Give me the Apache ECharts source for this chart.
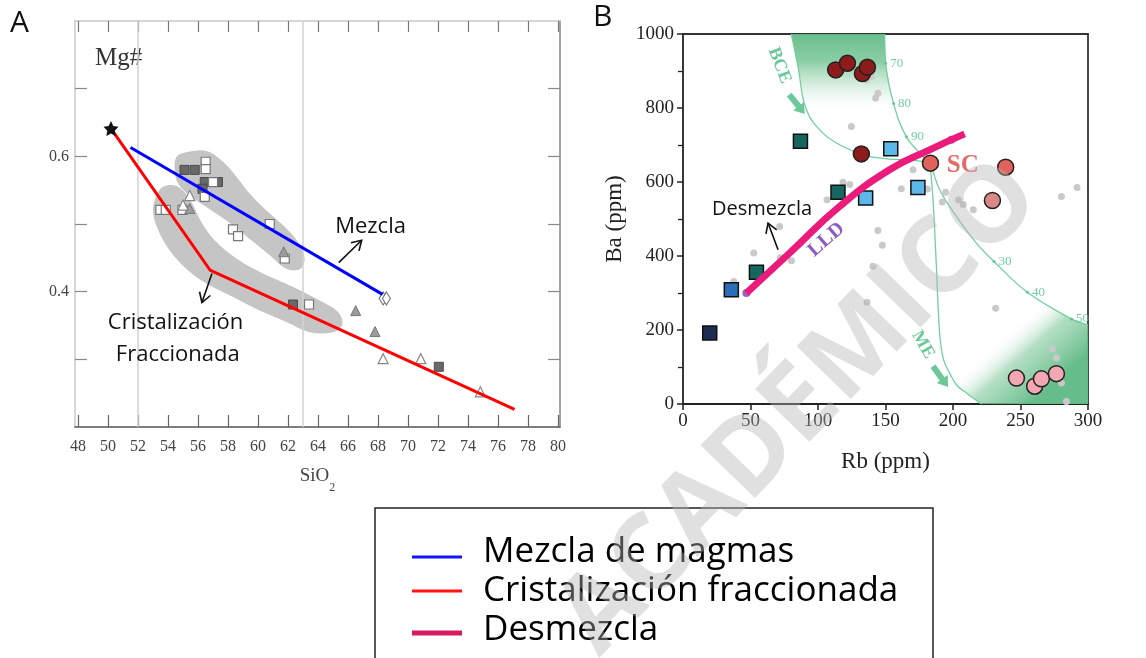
<!DOCTYPE html>
<html><head><meta charset="utf-8">
<script src="https://cdn.jsdelivr.net/npm/echarts@6/dist/echarts.min.js"></script>
<style>html,body{margin:0;padding:0;background:#fff}#c{width:1146px;height:658px}</style>
</head><body><div id="c"></div><script>
// ---------- Panel A data (SiO2 vs Mg#) ----------
const A_xTicks = [48,50,52,54,56,58,60,62,64,66,68,70,72,74,76,78,80];
const A_yTicks = [0.3,0.4,0.5,0.6,0.7];
const A_yLabels = [0.4,0.6];
const A_refLines = [52,63];
const A_star = [[50.2,0.641]];
const A_darkSquares = [[55.1,0.580],[55.78,0.580],[56.45,0.562],[57.33,0.562],[56.3,0.552],[62.33,0.381],[72.05,0.289]];
const A_whiteSquares = [[56.51,0.592],[56.51,0.581],[57.0,0.562],[56.45,0.540],[53.49,0.521],[53.85,0.521],[54.96,0.521],[60.78,0.500],[58.33,0.492],[58.67,0.482],[61.78,0.449],[63.4,0.381]];
const A_grayTriangles = [[55.45,0.523],[61.71,0.459],[66.51,0.372],[67.8,0.341]];
const A_whiteTriangles = [[55.0,0.528],[55.45,0.542],[68.34,0.301],[70.85,0.301],[74.82,0.252]];
const A_diamonds = [[68.34,0.390],[68.56,0.390]];
const A_mixLine = [[51.5,0.613],[68.3,0.396]];
const A_fracLine = [[50.2,0.641],[56.8,0.432],[77.1,0.226]];
const A_blobUpper = [[54.56,0.599],[55.22,0.606],[56.56,0.608],[57.67,0.592],[58.56,0.570],[59.44,0.545],[60.56,0.520],[61.67,0.498],[62.67,0.473],[63.11,0.449],[62.78,0.433],[61.89,0.434],[60.78,0.454],[59.44,0.478],[57.89,0.505],[56.56,0.525],[55.45,0.542],[54.67,0.560],[54.45,0.579]];
const A_blobLower = [[53.67,0.555],[54.45,0.557],[55.11,0.547],[55.67,0.528],[56.22,0.503],[57.11,0.476],[58.56,0.449],[60.33,0.427],[62.34,0.407],[64.11,0.387],[65.34,0.370],[65.62,0.352],[65.0,0.340],[63.45,0.340],[61.89,0.355],[60.11,0.372],[58.34,0.392],[56.56,0.412],[55.22,0.434],[54.11,0.461],[53.34,0.491],[53.0,0.518],[53.22,0.542]];
const A_notes = [
  {text:'Mezcla', at:[67.5,0.496]},
  {text:'Cristalización', at:[54.5,0.354]},
  {text:'Fraccionada', at:[54.65,0.307]}
];
const A_arrows = [
  {from:[65.38,0.443], to:[66.91,0.476]},
  {from:[56.93,0.427], to:[56.26,0.384]}
];
// ---------- Panel B data (Rb vs Ba) ----------
const B_navySquares = [[19.8,192]];
const B_blueSquares = [[35.8,309]];
const B_tealSquares = [[54.4,356],[87,710],[114.8,572]];
const B_lightBlueSquares = [[135.3,557],[153.9,690],[174,585]];
const B_darkRedCircles = [[113.1,903],[121.8,921],[132.9,893],[136.6,910],[132.1,676]];
const B_redCircles = [[183.3,651],[239,640]];
const B_midPinkCircles = [[229.2,550]];
const B_pinkCircles = [[247,70],[260.5,48],[265.5,68],[276.6,82]];
const B_grayDots = [[124.7,750],[144.4,840],[142.7,827],[139.6,885],[135.8,876],[118.5,599],[123.5,593],[106.7,552],[170.4,633],[161.7,582],[181,581],[194.6,572],[192.1,546],[204,552],[207.6,539],[215,525],[144.4,469],[147.7,429],[140.7,372],[136.3,275],[52.4,408],[80.3,387],[71.6,480],[37.6,331],[231.6,259],[280.3,561],[291.9,585],[273.6,149],[276.6,124],[280.3,57],[284,7],[72,395]];
const B_purpleDots = [[47,300],[198.8,714]];
const B_unmixing = [[47,300],[79,408],[116,534],[153,633],[182.7,687],[208.6,730]];
const B_curveBCE = [[80.2,1000],[85.2,912],[91.4,795],[103.7,732],[118.5,696],[135.8,671],[153.1,662],[170,659],[183,651]];
const B_curveRight = [[149.4,1000],[150.1,921],[156,812],[165.5,722],[177.8,669],[183,648],[190.1,579],[202.5,507],[217.3,435],[230.4,385],[255.1,302],[287.7,230],[300,214]];
const B_curveME = [[183,648],[185.2,552],[187.7,372],[190.1,192],[193,120],[197.5,84],[203,50],[209.9,30],[221,0]];
const B_curveTicks = [[150.1,921,'70'],[156,812,'80'],[165.5,722,'90'],[230.4,385,'30'],[255.1,302,'40'],[287.7,230,'50']];
const B_shadeTop = [[80.2,1000],[85.2,912],[91.4,795],[157.6,795],[156,812],[150.1,921],[149.4,1000]];
const B_shadeBottom = [[188.5,300],[190.1,192],[193,120],[197.5,84],[203,50],[209.9,30],[221,0],[300,0],[300,214],[287.7,230],[255.1,302]];
const B_notes = [
  {text:'Desmezcla', at:[58.6,527], kind:'black'},
  {text:'SC', at:[207.2,644], kind:'sc'},
  {text:'LLD', at:[106.2,444], kind:'lld'},
  {text:'BCE', at:[71.5,915], kind:'bce'},
  {text:'ME', at:[177.8,160], kind:'me'}
];
const B_arrows = [{from:[70.4,417], to:[63,489]}];
const B_fatArrows = [{from:[78.7,836], to:[90.2,784]},{from:[185.2,102], to:[196.3,46]}];

const SERIF = "'Liberation Serif','DejaVu Serif',serif";
const SANS = "'Open Sans','Noto Sans',sans-serif";

const chart = echarts.init(document.getElementById('c'));

function polySeries(ax, pts, fillFn, z, smooth, stroke) {
  return {type:'custom', xAxisIndex:ax, yAxisIndex:ax, z:z, silent:true, clip:false,
    data:[pts[0]],
    renderItem:(p, api)=>({type:'polygon', shape:{points:pts.map(d=>api.coord(d)), smooth:smooth||0},
      style:{fill:fillFn(api), stroke:stroke||null}})};
}
function arrowSeries(ax, list, color, width, head, spread, filled, z) {
  return {type:'custom', xAxisIndex:ax, yAxisIndex:ax, z:z, silent:true, clip:false,
    data:list.map(a=>[a.from[0],a.from[1],a.to[0],a.to[1]]),
    encode:{x:[0,2], y:[1,3]},
    renderItem:(p, api)=>{
      const t = api.coord([api.value(0),api.value(1)]), h = api.coord([api.value(2),api.value(3)]);
      const ang = Math.atan2(h[1]-t[1], h[0]-t[0]);
      const a1 = [h[0]-head*Math.cos(ang-spread), h[1]-head*Math.sin(ang-spread)];
      const a2 = [h[0]-head*Math.cos(ang+spread), h[1]-head*Math.sin(ang+spread)];
      const base = filled ? [h[0]-head*0.8*Math.cos(ang), h[1]-head*0.8*Math.sin(ang)] : h;
      return {type:'group', children:[
        {type:'polyline', shape:{points:[t, base]}, style:{stroke:color, lineWidth:width, fill:null}},
        filled ? {type:'polygon', shape:{points:[a1,h,a2]}, style:{fill:color}}
               : {type:'polyline', shape:{points:[a1,h,a2]}, style:{stroke:color, lineWidth:width, fill:null}}
      ]};
    }};
}
function noteSeries(ax, list, styleFor, z) {
  return {type:'custom', xAxisIndex:ax, yAxisIndex:ax, z:z, silent:true, clip:false,
    data:list.map((n,i)=>[n.at[0], n.at[1], i]),
    renderItem:(p, api)=>{
      const n = list[api.value(2)]; const c = api.coord([api.value(0), api.value(1)]);
      const s = styleFor(n);
      return {type:'text', x:c[0], y:c[1], rotation:s.rotation||0,
        style:{text:n.text, fill:s.fill, fontSize:s.size, fontFamily:s.family, fontWeight:s.weight||'normal',
          align:'center', verticalAlign:'middle'}};
    }};
}
function sc(ax, data, symbol, size, fill, border, bw, z) {
  return {type:'scatter', xAxisIndex:ax, yAxisIndex:ax, data:data, symbol:symbol, symbolSize:size, z:z,
    itemStyle:{color:fill, borderColor:border, borderWidth:bw, opacity:1}, silent:true};
}

const STAR = 'path://M0,-10L2.94,-4.05L9.51,-3.09L4.76,1.55L5.88,8.09L0,5L-5.88,8.09L-4.76,1.55L-9.51,-3.09L-2.94,-4.05Z';
const GREENLINE = '#72cfa0';

const option = {
  animation:false,
  backgroundColor:'#fff',
  grid:[
    {left:75, top:21, width:485, height:406},
    {left:683, top:34, width:405, height:370}
  ],
  xAxis:[
    {gridIndex:0, type:'value', min:47.8, max:80.13, position:'bottom',
      axisLine:{show:true, lineStyle:{color:'#555', width:1.5}},
      axisTick:{show:true, inside:true, length:12, customValues:A_xTicks, lineStyle:{color:'#666', width:1.2}},
      axisLabel:{customValues:A_xTicks, color:'#444', fontFamily:SERIF, fontSize:16, margin:12},
      splitLine:{show:false},
      name:'SiO{s|2}', nameLocation:'middle', nameGap:40,
      nameTextStyle:{color:'#444', fontFamily:SERIF, fontSize:19, rich:{s:{fontSize:12, fontFamily:SERIF, color:'#444', verticalAlign:'bottom', padding:[0,0,-8,0]}}}},
    {gridIndex:0, type:'value', min:47.8, max:80.13, position:'top',
      axisLine:{show:true, lineStyle:{color:'#c8c8c8', width:1.5}},
      axisTick:{show:true, inside:true, length:11, customValues:A_xTicks, lineStyle:{color:'#777', width:1.2}},
      axisLabel:{show:false}, splitLine:{show:false}},
    {gridIndex:1, type:'value', min:0, max:300, interval:50, position:'bottom',
      axisLine:{show:true, onZero:false, lineStyle:{color:'#222', width:1.8}},
      axisTick:{show:true, length:6, lineStyle:{color:'#222', width:1.5}},
      axisLabel:{color:'#222', fontFamily:SERIF, fontSize:19, margin:8},
      splitLine:{show:false},
      name:'Rb (ppm)', nameLocation:'middle', nameGap:46,
      nameTextStyle:{color:'#222', fontFamily:SERIF, fontSize:23, verticalAlign:'top'}},
    {gridIndex:1, type:'value', min:0, max:300, position:'top',
      axisLine:{show:true, onZero:false, lineStyle:{color:'#333', width:1.8}},
      axisTick:{show:false}, axisLabel:{show:false}, splitLine:{show:false}}
  ],
  yAxis:[
    {gridIndex:0, type:'value', min:0.2, max:0.8, interval:0.1, position:'left',
      axisLine:{show:true, lineStyle:{color:'#c8c8c8', width:1.5}},
      axisTick:{show:true, inside:true, length:12, customValues:A_yTicks, lineStyle:{color:'#888', width:1.2}},
      axisLabel:{customValues:A_yLabels, formatter:v=>v.toFixed(1), color:'#444', fontFamily:SERIF, fontSize:16, margin:6},
      splitLine:{show:false},
      name:'Mg#', nameLocation:'end', nameGap:-50,
      nameTextStyle:{color:'#333', fontFamily:SERIF, fontSize:25, align:'left', verticalAlign:'bottom', padding:[0,0,0,20]}},
    {gridIndex:0, type:'value', min:0.2, max:0.8, interval:0.1, position:'right',
      axisLine:{show:true, lineStyle:{color:'#888', width:1.5}},
      axisTick:{show:true, inside:true, length:12, customValues:A_yTicks, lineStyle:{color:'#888', width:1.2}},
      axisLabel:{show:false}, splitLine:{show:false}},
    {gridIndex:1, type:'value', min:0, max:1000, interval:200, position:'left',
      axisLine:{show:true, onZero:false, lineStyle:{color:'#222', width:1.8}},
      axisTick:{show:true, length:6, lineStyle:{color:'#222', width:1.5}},
      minorTick:{show:true, splitNumber:2, length:5, lineStyle:{color:'#222', width:1.3}},
      axisLabel:{color:'#222', fontFamily:SERIF, fontSize:19, margin:9, formatter:v=>String(v)},
      splitLine:{show:false},
      name:'Ba (ppm)', nameLocation:'middle', nameGap:57, nameRotate:90,
      nameTextStyle:{color:'#222', fontFamily:SERIF, fontSize:23}},
    {gridIndex:1, type:'value', min:0, max:1000, position:'right',
      axisLine:{show:true, onZero:false, lineStyle:{color:'#333', width:1.8}},
      axisTick:{show:false}, axisLabel:{show:false}, splitLine:{show:false}}
  ],
  series:[
    // ----- Panel A -----
    polySeries(0, A_blobUpper, ()=> '#c5c5c5', 1, 0.35),
    polySeries(0, A_blobLower, ()=> '#c5c5c5', 1, 0.35),
    {type:'scatter', xAxisIndex:0, yAxisIndex:0, data:[], silent:true, z:1,
      markLine:{silent:true, symbol:'none', label:{show:false}, animation:false,
        lineStyle:{color:'#d2d2d2', width:1.5, type:'solid'}, data:A_refLines.map(v=>({xAxis:v}))}},
    sc(0, A_darkSquares, 'rect', 9, '#686868', '#4a4a4a', 1, 5),
    sc(0, A_whiteSquares, 'rect', 9, '#ffffff', '#777777', 1.2, 5),
    sc(0, A_grayTriangles, 'triangle', 10, '#9c9c9c', '#777777', 1, 5),
    sc(0, A_whiteTriangles, 'triangle', 10, '#ffffff', '#888888', 1.2, 5),
    sc(0, A_diamonds, 'diamond', [8,13], '#ffffff', '#777777', 1.2, 5),
    {type:'line', name:'Mezcla de magmas', xAxisIndex:0, yAxisIndex:0, data:A_mixLine, symbol:'none', z:8,
      lineStyle:{color:'#0000ff', width:3}, silent:true},
    {type:'line', name:'Cristalización fraccionada', xAxisIndex:0, yAxisIndex:0, data:A_fracLine, symbol:'none', z:8,
      lineStyle:{color:'#ff0000', width:3}, silent:true},
    sc(0, A_star, STAR, 15, '#111111', '#111111', 0, 9),
    arrowSeries(0, A_arrows, '#111', 1.6, 11, 0.55, false, 10),
    noteSeries(0, A_notes, ()=>({fill:'#111', size:22, family:SANS}), 10),
    // ----- Panel B -----
    polySeries(2, B_shadeTop, api=>{
      const a = api.coord([100,1000]), b = api.coord([100,790]);
      return new echarts.graphic.LinearGradient(a[0],a[1],b[0],b[1],[
        {offset:0, color:'rgba(98,187,134,0.95)'},{offset:0.35, color:'rgba(110,192,142,0.8)'},
        {offset:0.75, color:'rgba(160,215,180,0.25)'},{offset:1, color:'rgba(255,255,255,0)'}], true);
    }, 1, 0),
    polySeries(2, B_shadeBottom, api=>{
      const a = api.coord([228,155]), b = api.coord([262,15]);
      return new echarts.graphic.LinearGradient(a[0],a[1],b[0],b[1],[
        {offset:0, color:'rgba(255,255,255,0)'},{offset:0.4, color:'rgba(140,205,165,0.65)'},
        {offset:1, color:'rgba(98,187,134,0.97)'}], true);
    }, 1, 0),
    {type:'line', xAxisIndex:2, yAxisIndex:2, data:B_curveBCE, symbol:'none', smooth:0.4, z:3, silent:true,
      lineStyle:{color:GREENLINE, width:1.3}},
    {type:'line', xAxisIndex:2, yAxisIndex:2, data:B_curveRight, symbol:'none', smooth:0.4, z:3, silent:true,
      lineStyle:{color:GREENLINE, width:1.3}},
    {type:'line', xAxisIndex:2, yAxisIndex:2, data:B_curveME, symbol:'none', smooth:0.4, z:3, silent:true,
      lineStyle:{color:GREENLINE, width:1.3}},
    {type:'scatter', xAxisIndex:2, yAxisIndex:2, data:B_curveTicks, symbol:'circle', symbolSize:3, z:3, silent:true,
      itemStyle:{color:'#4fbf8a'},
      label:{show:true, position:'right', distance:3, formatter:p=>p.data[2], color:'#4fbf8a', fontFamily:SERIF, fontSize:13}},
    arrowSeries(2, B_fatArrows, '#6cc898', 6, 12, 0.6, true, 3),
    sc(2, B_grayDots, 'circle', 7, '#c9c9c9', '#c9c9c9', 0, 4),
    sc(2, B_purpleDots, 'circle', 8, '#9b5fc8', '#9b5fc8', 0, 4),
    sc(2, B_navySquares, 'rect', 14, '#1d2c4f', '#111', 1.5, 6),
    sc(2, B_blueSquares, 'rect', 14, '#2c6db9', '#111', 1.5, 6),
    sc(2, B_tealSquares, 'rect', 14, '#15675f', '#111', 1.5, 6),
    sc(2, B_lightBlueSquares, 'rect', 14, '#5cb8e8', '#111', 1.5, 6),
    sc(2, B_darkRedCircles, 'circle', 16, '#8e1b1b', '#222', 1.5, 6),
    sc(2, B_redCircles, 'circle', 16, '#e0625b', '#222', 1.5, 6),
    sc(2, B_midPinkCircles, 'circle', 16, '#d98787', '#222', 1.5, 6),
    sc(2, B_pinkCircles, 'circle', 16, '#f1a8b3', '#222', 1.5, 6),
    {type:'line', name:'Desmezcla', xAxisIndex:2, yAxisIndex:2, data:B_unmixing, symbol:'none', smooth:0.5, z:8, silent:true,
      lineStyle:{color:'#ea1b7a', width:7, cap:'butt'}},
    arrowSeries(2, B_arrows, '#111', 1.6, 11, 0.55, false, 10),
    noteSeries(2, B_notes, n=>{
      if (n.kind==='black') return {fill:'#111', size:20, family:SANS};
      if (n.kind==='sc') return {fill:'#e56b6b', size:25, family:SERIF, weight:'bold'};
      if (n.kind==='lld') return {fill:'#8d5cc2', size:20, family:SERIF, weight:'bold', rotation:0.72};
      if (n.kind==='bce') return {fill:'#6cc898', size:18, family:SERIF, weight:'bold', rotation:-1.2};
      return {fill:'#6cc898', size:18, family:SERIF, weight:'bold', rotation:-1.05};
    }, 10)
  ],
  graphic:[
    {type:'text', left:10, top:8, style:{text:'A', fontSize:30, fontFamily:SANS, fill:'#111'}},
    {type:'text', left:593, top:2, style:{text:'B', fontSize:30, fontFamily:SANS, fill:'#111'}},
    {type:'rect', z:20, shape:{x:375, y:508, width:558, height:170}, style:{fill:'#fff', stroke:'#222', lineWidth:1.5}},
    {type:'line', z:21, shape:{x1:412, y1:557, x2:462, y2:557}, style:{stroke:'#1414ff', lineWidth:3}},
    {type:'line', z:21, shape:{x1:412, y1:591, x2:462, y2:591}, style:{stroke:'#ff1414', lineWidth:3}},
    {type:'line', z:21, shape:{x1:412, y1:633, x2:462, y2:633}, style:{stroke:'#d81b60', lineWidth:5}},
    {type:'text', z:21, x:483, y:552, style:{text:'Mezcla de magmas', fontSize:35, fontFamily:SANS, fill:'#000', verticalAlign:'middle'}},
    {type:'text', z:21, x:483, y:591, style:{text:'Cristalización fraccionada', fontSize:35, fontFamily:SANS, fill:'#000', verticalAlign:'middle'}},
    {type:'text', z:21, x:483, y:630, style:{text:'Desmezcla', fontSize:35, fontFamily:SANS, fill:'#000', verticalAlign:'middle'}},
    {type:'text', z:100, x:800, y:408, rotation:0.8, silent:true,
      style:{text:'ACADÉMICO', fontSize:106, fontWeight:'bold', fontFamily:SANS, fill:'rgba(180,180,180,0.42)', align:'center', verticalAlign:'middle'}}
  ]
};
chart.setOption(option);
</script></body></html>
